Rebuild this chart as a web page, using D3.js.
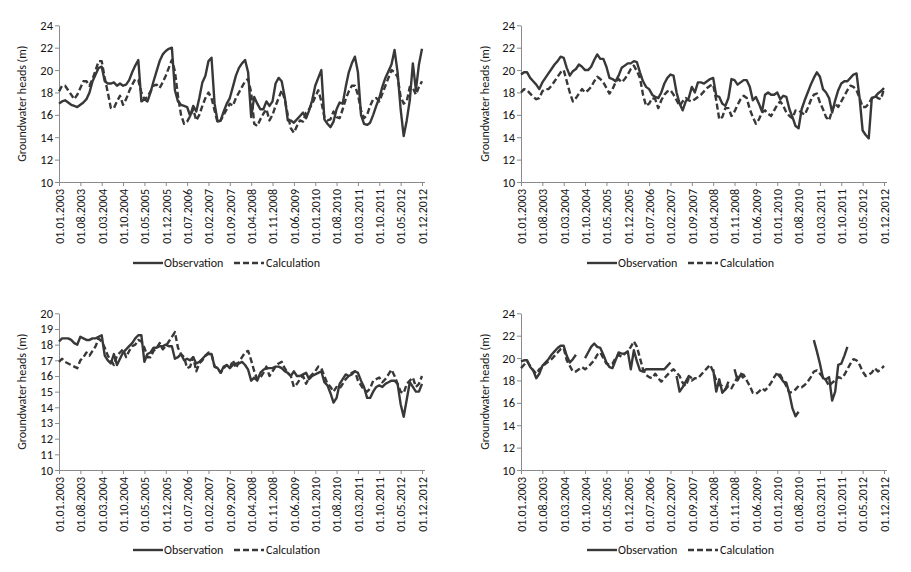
<!DOCTYPE html>
<html>
<head>
<meta charset="utf-8">
<script src="https://cdn.jsdelivr.net/npm/d3@7"></script>
<style>
  html, body { margin: 0; padding: 0; background: #ffffff; }
  svg text { font-family: Carlito, Lato, "Liberation Sans", sans-serif; fill: #151515; }
</style>
</head>
<body>
<svg id="chart" width="911" height="572"></svg>
<script>
// ---- Data (monthly, 01.2003 .. 12.2012) ----
const startMonth = "01.01.2003";
const endMonth = "01.12.2012";
const tickLabels = ["01.01.2003","01.08.2003","01.03.2004","01.10.2004","01.05.2005","01.12.2005",
  "01.07.2006","01.02.2007","01.09.2007","01.04.2008","01.11.2008","01.06.2009","01.01.2010",
  "01.08.2010","01.03.2011","01.10.2011","01.05.2012","01.12.2012"];
const seriesNames = ["Observation", "Calculation"];
const yLabel = "Groundwater heads (m)";

const obs1 = [17.0,17.2,17.3,17.1,16.9,16.8,16.7,16.9,17.1,17.4,
  18.0,19.0,19.6,20.2,20.3,19.0,18.8,18.8,18.9,18.6,
  18.8,18.6,18.7,19.1,19.8,20.4,20.9,17.2,17.4,17.2,
  18.0,19.0,19.9,20.8,21.4,21.7,21.9,22.0,18.2,17.2,
  16.9,16.8,16.7,15.9,16.8,16.3,17.5,18.9,19.5,20.8,
  21.1,17.0,15.4,15.5,16.3,17.0,17.5,18.5,19.5,20.2,
  20.6,20.9,19.8,15.8,17.6,17.0,16.5,16.5,17.2,16.8,
  17.2,18.8,19.3,19.0,17.6,15.5,15.5,15.3,15.6,15.9,
  16.2,15.7,16.4,17.3,18.6,19.3,20.0,15.6,15.2,14.9,
  15.4,16.5,17.1,17.0,18.5,19.8,20.6,21.2,19.8,16.0,
  15.2,15.1,15.3,16.0,16.8,17.5,18.5,19.3,19.9,20.5,
  21.8,19.8,16.5,14.1,15.5,17.3,20.6,18.2,20.5,21.9];
const calc1 = [18.1,18.6,18.6,18.2,17.8,17.4,17.8,18.4,19.0,19.0,
  18.6,19.2,20.0,20.8,20.8,19.3,18.0,16.6,16.6,17.2,
  17.7,16.9,17.4,18.1,18.7,19.2,19.1,18.0,17.4,17.6,
  18.1,18.6,18.7,18.4,18.9,19.5,20.2,20.9,19.9,17.7,
  16.0,15.2,15.4,15.9,16.5,15.5,16.0,16.8,17.5,18.0,
  17.5,16.4,15.3,15.5,16.0,16.5,17.0,16.8,17.5,18.0,
  18.5,19.0,19.2,18.0,15.2,15.0,15.6,16.1,16.5,15.5,
  16.0,16.8,17.5,18.2,17.4,16.0,14.8,14.4,15.0,15.5,
  15.4,16.2,16.5,17.0,17.6,18.2,17.2,15.8,15.5,15.6,
  16.3,15.8,15.7,16.5,17.4,18.1,18.6,18.6,17.8,16.4,
  15.7,16.0,16.8,17.4,17.5,17.2,17.9,18.6,19.3,20.0,
  19.8,19.4,17.6,17.0,17.2,18.5,18.4,17.8,18.5,19.0];

const obs2 = [19.6,19.8,19.8,19.3,19.0,18.7,18.3,18.9,19.3,19.7,
  20.1,20.5,20.8,21.2,21.1,20.2,19.5,19.9,20.1,20.5,
  20.3,20.0,20.0,20.3,20.9,21.4,21.0,21.0,20.3,19.3,
  19.2,19.0,19.5,20.2,20.4,20.6,20.6,20.8,20.7,19.8,
  19.0,18.5,18.3,17.8,17.6,17.5,18.0,18.8,19.3,19.6,
  19.5,18.0,17.0,16.4,17.2,17.5,18.5,18.0,18.9,18.9,
  18.8,19.0,19.2,19.3,17.7,17.6,17.0,16.8,17.5,19.2,
  19.1,18.7,18.9,19.1,19.1,18.5,17.3,17.6,17.0,16.3,
  17.8,18.0,17.8,17.8,18.0,17.4,17.7,17.6,16.5,15.8,
  15.0,14.8,16.5,17.3,18.0,18.7,19.3,19.8,19.4,18.3,
  18.0,17.5,16.2,17.3,18.2,18.8,19.0,19.0,19.3,19.6,
  19.7,17.5,14.6,14.2,13.9,17.5,17.6,17.9,18.1,18.4];
const calc2 = [18.0,18.3,18.2,17.9,17.6,17.4,17.5,18.1,18.3,18.3,
  18.6,19.0,19.4,19.8,20.0,19.0,18.0,17.2,17.5,17.9,
  18.3,18.0,18.2,18.5,19.0,19.4,19.2,18.9,18.4,17.9,
  18.3,18.9,19.2,18.9,19.2,19.6,20.1,20.4,19.9,19.3,
  17.8,16.8,17.0,17.5,17.4,16.6,17.3,17.8,18.1,18.2,
  17.8,17.3,16.8,17.2,17.5,17.3,17.2,17.4,17.6,17.8,
  18.1,18.4,18.6,18.7,17.3,15.6,15.8,16.6,16.6,15.9,
  16.3,16.9,17.4,17.7,17.5,16.5,15.8,15.2,15.6,16.2,
  16.4,16.1,15.9,16.4,16.9,17.2,16.8,16.2,15.9,15.7,
  16.4,16.4,16.2,16.0,16.6,17.3,17.8,17.9,17.1,16.5,
  15.8,15.5,16.4,17.0,16.7,17.2,17.7,18.2,18.6,18.5,
  18.2,17.5,16.7,16.7,17.0,17.5,17.7,17.5,17.4,18.3];

const obs3 = [18.2,18.4,18.4,18.4,18.3,18.1,18.0,18.5,18.4,18.3,
  18.3,18.4,18.4,18.5,18.6,17.3,17.0,16.8,17.4,16.7,
  17.1,17.5,17.7,17.9,18.1,18.4,18.6,18.6,16.9,17.4,
  17.5,17.8,17.8,17.9,17.9,18.0,17.9,17.9,17.1,17.2,
  17.4,17.0,17.1,17.0,17.2,16.8,16.9,17.1,17.3,17.4,
  17.4,16.6,16.5,16.2,16.6,16.7,16.5,16.7,16.8,16.8,
  16.9,16.7,16.4,15.7,15.9,15.7,16.2,16.4,16.5,16.5,
  16.5,16.6,16.6,16.5,16.3,16.2,16.0,16.3,16.0,16.0,
  16.1,16.2,15.8,16.0,16.1,16.2,16.3,15.6,15.4,14.9,
  14.3,14.6,15.5,15.8,16.1,16.0,16.1,16.3,16.2,15.7,
  15.3,14.6,14.6,15.0,15.3,15.4,15.3,15.5,15.6,15.7,
  15.7,15.5,14.2,13.4,14.5,15.6,15.3,15.0,15.0,15.5];
const calc3 = [16.9,17.1,16.9,16.8,16.7,16.6,16.5,17.0,17.2,17.5,
  17.3,17.6,17.9,18.4,18.2,17.8,17.3,17.0,16.7,17.3,
  17.5,17.7,17.2,17.6,17.9,18.0,18.3,18.2,17.8,17.2,
  17.2,17.6,17.8,18.1,17.7,17.9,18.2,18.5,18.8,17.8,
  17.4,17.2,16.5,16.6,17.2,16.3,16.8,17.0,17.3,17.5,
  17.4,16.6,16.5,16.2,16.5,16.7,16.5,17.0,16.5,16.9,
  17.2,17.5,17.6,17.0,16.3,15.8,15.9,16.2,16.6,16.0,
  16.3,16.6,16.8,16.9,16.5,16.2,16.0,15.3,15.5,15.8,
  16.0,15.5,15.9,16.1,16.3,16.6,16.5,16.0,15.5,15.3,
  15.0,15.3,15.2,15.5,15.8,16.0,16.2,16.3,15.7,15.4,
  15.1,15.0,15.2,15.7,15.8,15.9,15.6,15.8,16.1,16.4,
  16.0,15.5,15.0,14.9,15.5,15.7,15.9,15.3,15.5,16.0];

const obs4 = [19.7,19.8,19.8,19.2,18.9,18.2,18.6,19.3,19.6,19.9,
  20.3,20.6,20.9,21.1,21.1,20.2,19.6,19.9,20.3,null,
  null,20.0,20.5,21.0,21.3,21.0,20.9,20.3,19.6,19.2,
  19.1,19.8,20.5,20.4,20.4,20.6,19.0,20.7,19.7,18.9,
  18.8,19.0,19.0,19.0,19.0,19.0,19.0,19.0,19.3,19.6,
  null,18.4,17.0,17.4,17.9,18.4,18.2,null,null,null,
  null,null,null,19.0,17.0,18.1,16.9,17.2,17.9,null,
  19.0,18.0,18.5,18.2,null,null,null,null,null,null,
  null,null,null,null,18.6,18.3,17.9,17.8,16.8,15.5,
  14.8,15.2,null,null,null,null,21.6,20.6,19.5,18.2,
  18.1,18.3,16.2,17.0,19.4,19.5,20.2,21.0,null,null,
  null,null,null,null,null,null,null,null,null,null];
const calc4 = [19.1,19.4,19.7,19.3,18.9,18.6,19.0,19.2,19.5,19.7,
  19.9,20.2,20.5,20.8,20.9,19.8,19.3,18.8,18.8,19.0,
  19.2,19.0,19.2,19.5,19.8,20.3,20.5,20.0,19.5,19.4,
  19.5,20.0,20.3,20.1,20.4,20.6,21.0,21.5,21.0,20.0,
  19.0,18.5,18.3,18.2,18.6,18.2,17.9,18.2,18.5,18.8,
  19.0,18.7,18.4,17.8,17.5,18.2,18.0,18.2,18.2,18.5,
  18.8,19.1,19.4,18.8,18.0,17.6,17.5,17.2,17.5,17.3,
  17.8,18.3,18.6,18.5,18.0,17.5,16.9,16.8,17.0,17.3,
  17.1,17.4,17.8,18.3,18.7,18.5,18.0,17.5,16.9,17.0,
  17.2,17.5,17.4,17.6,17.9,18.3,18.8,18.9,18.6,18.3,
  18.0,17.5,17.8,18.0,18.3,18.2,18.5,19.0,19.5,19.9,
  19.8,19.4,18.8,18.4,18.5,18.7,19.1,18.8,19.0,19.3];

const yTicks1 = [10,12,14,16,18,20,22,24];
const yTicks3 = [10,11,12,13,14,15,16,17,18,19,20];

// ---- Layout ----
const panels = [
  {obs: obs1, calc: calc1, yTicks: yTicks1, left: 59, right: 422, top: 25.3, bottom: 182, cx: 22, legendCx: 226, legendY: 263},
  {obs: obs2, calc: calc2, yTicks: yTicks1, left: 521, right: 884, top: 25.3, bottom: 182, cx: 485, legendCx: 680, legendY: 263},
  {obs: obs3, calc: calc3, yTicks: yTicks3, left: 59, right: 422, top: 313.3, bottom: 470, cx: 22, legendCx: 226, legendY: 550},
  {obs: obs4, calc: calc4, yTicks: yTicks1, left: 521, right: 884, top: 313.3, bottom: 470, cx: 485, legendCx: 680, legendY: 550}
];

const parseD = d3.timeParse("%d.%m.%Y");
const months = d3.timeMonth.range(parseD(startMonth), d3.timeMonth.offset(parseD(endMonth), 1));
const fmt = d3.timeFormat("%d.%m.%Y");
const monthIndex = new Map(months.map((m, i) => [fmt(m), i]));

const svg = d3.select("#chart");
const lineColor = "#383838";
const axisColor = "#8a8a8a";
const lw = 2.4;

panels.forEach(p => {
  const g = svg.append("g");
  const x = d3.scaleLinear().domain([0, months.length - 1]).range([p.left, p.right]);
  const y = d3.scaleLinear().domain([d3.min(p.yTicks), d3.max(p.yTicks)]).range([p.bottom, p.top]);

  // x axis
  const xAxis = d3.axisBottom(x)
    .tickValues(tickLabels.map(t => monthIndex.get(t)))
    .tickFormat(i => fmt(months[i]))
    .tickSizeOuter(0).tickSizeInner(4);
  const gx = g.append("g").attr("transform", `translate(0,${p.bottom})`).call(xAxis);
  gx.select(".domain").attr("stroke", axisColor).attr("d", `M${p.left},0.5H${p.right + 3}`);
  gx.selectAll(".tick line").attr("stroke", axisColor);
  gx.selectAll(".tick text")
    .attr("transform", "rotate(-90)")
    .attr("text-anchor", "end")
    .attr("x", -7).attr("y", 0).attr("dy", "0.36em")
    .style("font-size", "12px").attr("fill", "#151515");

  // y axis
  const yAxis = d3.axisLeft(y).tickValues(p.yTicks).tickFormat(d3.format("d"))
    .tickSizeOuter(0).tickSizeInner(4);
  const gy = g.append("g").attr("transform", `translate(${p.left},0)`).call(yAxis);
  gy.select(".domain").attr("stroke", axisColor);
  gy.selectAll(".tick line").attr("stroke", axisColor);
  gy.selectAll(".tick text").attr("x", -6).style("font-size", "12.5px").attr("fill", "#151515");

  // y label
  g.append("text")
    .attr("transform", `translate(${p.cx},${(p.top + p.bottom) / 2}) rotate(-90)`)
    .attr("text-anchor", "middle").attr("dy", "0.35em")
    .style("font-size", "12px").text(yLabel);

  // lines
  const line = d3.line().defined(d => d != null).x((d, i) => x(i)).y(d => y(d));
  g.append("path").datum(p.calc).attr("d", line)
    .attr("fill", "none").attr("stroke", lineColor).attr("stroke-width", lw)
    .attr("stroke-dasharray", "6,3").attr("stroke-linejoin", "round");
  g.append("path").datum(p.obs).attr("d", line)
    .attr("fill", "none").attr("stroke", lineColor).attr("stroke-width", lw)
    .attr("stroke-linejoin", "round");

  // legend
  const lg = g.append("g").attr("transform", `translate(${p.legendCx - 93},${p.legendY})`);
  lg.append("line").attr("x1", 0).attr("x2", 30).attr("y1", 0).attr("y2", 0)
    .attr("stroke", lineColor).attr("stroke-width", lw);
  lg.append("text").attr("x", 31).attr("dy", "0.35em").style("font-size", "12px").text(seriesNames[0]);
  lg.append("line").attr("x1", 101).attr("x2", 131).attr("y1", 0).attr("y2", 0)
    .attr("stroke", lineColor).attr("stroke-width", lw).attr("stroke-dasharray", "6,3");
  lg.append("text").attr("x", 133).attr("dy", "0.35em").style("font-size", "12px").text(seriesNames[1]);
});
</script>
</body>
</html>
